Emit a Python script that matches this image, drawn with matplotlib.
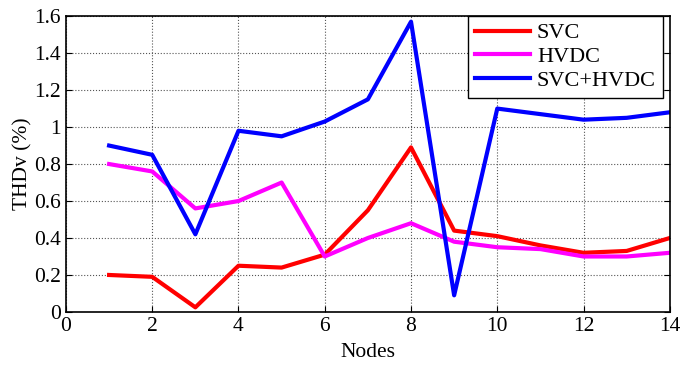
import numpy as np
import matplotlib
matplotlib.use("Agg")
import matplotlib.pyplot as plt

plt.rcParams['font.family'] = ['Liberation Serif', 'DejaVu Serif']

nodes = [1, 2, 3, 4, 5, 6, 7, 8, 9, 10, 11, 12, 13, 14]
svc = [0.20, 0.19, 0.025, 0.25, 0.24, 0.31, 0.55, 0.89, 0.44, 0.41, 0.36, 0.32, 0.33, 0.40]
hvdc = [0.80, 0.76, 0.56, 0.60, 0.70, 0.30, 0.40, 0.48, 0.38, 0.35, 0.34, 0.30, 0.30, 0.32]
svc_hvdc = [0.90, 0.85, 0.42, 0.98, 0.95, 1.03, 1.15, 1.57, 0.09, 1.10, 1.07, 1.04, 1.05, 1.08]

fig = plt.figure(figsize=(6.8, 3.67), dpi=100)
ax = fig.add_axes([0.097, 0.150, 0.888, 0.806])

ax.plot(nodes, svc, color='#ff0000', lw=3, label='SVC')
ax.plot(nodes, hvdc, color='#ff00ff', lw=3, label='HVDC')
ax.plot(nodes, svc_hvdc, color='#0000ff', lw=3, label='SVC+HVDC')

ax.set_xlim(0, 14)
ax.set_ylim(0, 1.6)
ax.set_xticks(range(0, 15, 2))
ax.set_yticks(np.arange(0, 1.61, 0.2))
ax.set_yticklabels(['0', '0.2', '0.4', '0.6', '0.8', '1', '1.2', '1.4', '1.6'])
ax.grid(True, color='#555555', ls=':', lw=0.8)
ax.tick_params(direction='in', top=False, right=True, labelsize=15.5, length=4)
for s in ax.spines.values():
    s.set_linewidth(1.2)

ax.set_xlabel('Nodes', fontsize=15.5)
ax.xaxis.set_label_coords(0.5, -0.105)
ax.set_ylabel('THDv (%)', fontsize=15.5, labelpad=1)

leg = ax.legend(loc='upper right', fontsize=16, fancybox=False, framealpha=1,
                edgecolor='black', borderaxespad=0.0, handlelength=2.5,
                labelspacing=0.15, borderpad=0.3, handletextpad=0.3,
                bbox_to_anchor=(0.988, 1.0))
leg.get_frame().set_linewidth(1)

fig.savefig('out.png', dpi=100)
